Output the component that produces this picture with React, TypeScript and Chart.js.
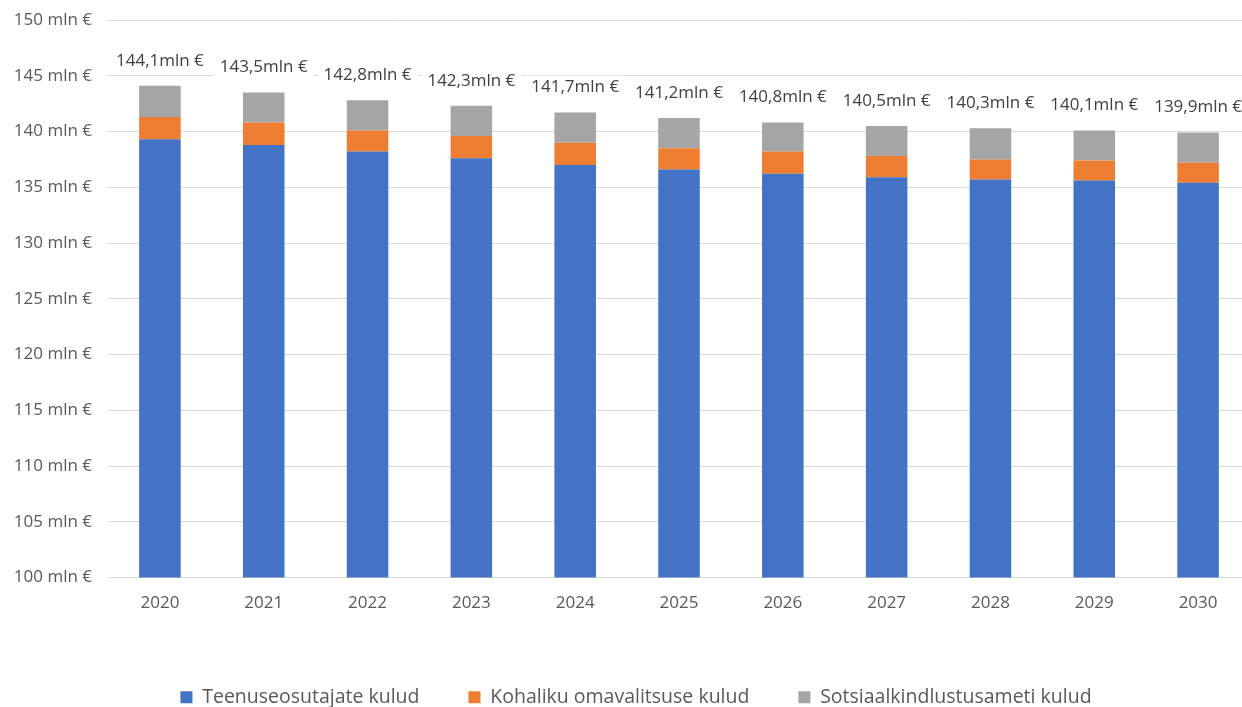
import React, { useEffect, useRef } from "react";
import { Chart, registerables } from "chart.js";

Chart.register(...registerables);

const categories = ["2020", "2021", "2022", "2023", "2024", "2025", "2026", "2027", "2028", "2029", "2030"];
const providerCosts = [139.3, 138.8, 138.2, 137.6, 137.0, 136.6, 136.2, 135.9, 135.7, 135.6, 135.4];
const municipalCosts = [2.0, 2.0, 1.9, 2.0, 2.0, 1.9, 2.0, 1.9, 1.8, 1.8, 1.8];
const socialInsuranceCosts = [2.8, 2.7, 2.7, 2.7, 2.7, 2.7, 2.6, 2.7, 2.8, 2.7, 2.7];
const seriesNames = ["Teenuseosutajate kulud", "Kohaliku omavalitsuse kulud", "Sotsiaalkindlustusameti kulud"];
const yMin = 100;
const yMax = 150;
const yStep = 5;

const FONT = '"Open Sans", "Noto Sans", sans-serif';

const totalLabelsPlugin = {
  id: "totalLabels",
  afterDatasetsDraw(chart: any) {
    const { ctx, scales } = chart;
    const x = scales.x;
    const y = scales.y;
    ctx.save();
    ctx.font = `17px ${FONT}`;
    ctx.textAlign = "center";
    ctx.textBaseline = "middle";
    categories.forEach((_, i) => {
      const total = providerCosts[i] + municipalCosts[i] + socialInsuranceCosts[i];
      const text = total.toFixed(1).replace(".", ",") + "mln €";
      const cx = x.getPixelForValue(i);
      const cy = y.getPixelForValue(total) - 25;
      const w = ctx.measureText(text).width + 12;
      ctx.fillStyle = "#ffffff";
      ctx.fillRect(cx - w / 2, cy - 12, w, 24);
      ctx.fillStyle = "#404040";
      ctx.fillText(text, cx, cy);
    });
    ctx.restore();
  },
};

const legendShiftPlugin = {
  id: "legendShift",
  afterLayout(chart: any) {
    if (chart.legend) chart.legend.left = 22;
  },
};

export default function App() {
  const canvasRef = useRef<HTMLCanvasElement | null>(null);

  useEffect(() => {
    document.body.style.margin = "0";
    document.body.style.overflow = "hidden";
    document.documentElement.style.overflow = "hidden";
    const canvas = canvasRef.current;
    if (!canvas) return;
    Chart.defaults.font.family = FONT;
    const chart = new Chart(canvas, {
      type: "bar",
      data: {
        labels: categories,
        datasets: [
          { label: seriesNames[0], data: providerCosts, backgroundColor: "#4472C4" },
          { label: seriesNames[1], data: municipalCosts, backgroundColor: "#ED7D31" },
          { label: seriesNames[2], data: socialInsuranceCosts, backgroundColor: "#A5A5A5" },
        ],
      },
      options: {
        responsive: false,
        animation: false,
        devicePixelRatio: 1,
        layout: { padding: { top: 20, left: 10, right: 0, bottom: 0 } },
        datasets: { bar: { categoryPercentage: 1, barPercentage: 0.4 } },
        plugins: {
          legend: {
            position: "bottom",
            labels: {
              boxWidth: 12,
              boxHeight: 12,
              padding: 49,
              color: "#595959",
              font: { size: 19.5, family: FONT },
            },
          },
          tooltip: { enabled: false },
        },
        scales: {
          x: {
            stacked: true,
            grid: { display: false, drawTicks: false },
            border: { display: false },
            ticks: { color: "#595959", font: { size: 17, family: FONT }, padding: 15 },
            afterFit: (scale: any) => {
              scale.height = 61;
            },
          },
          y: {
            stacked: true,
            min: yMin,
            max: yMax,
            grid: { color: "#d9d9d9", lineWidth: 1, drawTicks: false },
            border: { display: false },
            ticks: {
              stepSize: yStep,
              color: "#595959",
              font: { size: 17, family: FONT },
              padding: 16,
              callback: (v: any) => `${v} mln €`,
            },
            afterFit: (scale: any) => {
              scale.width = 98;
              scale.paddingTop = 0;
              scale.paddingBottom = 0;
            },
          },
        },
      } as any,
      plugins: [totalLabelsPlugin, legendShiftPlugin],
    });
    return () => chart.destroy();
  }, []);

  return (
    <div style={{ width: 1250, height: 717, position: "relative" }}>
      <canvas ref={canvasRef} width={1250} height={717} style={{ display: "block" }} />
    </div>
  );
}
